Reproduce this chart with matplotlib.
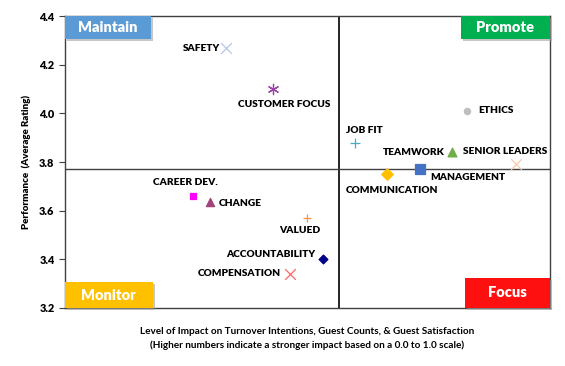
import numpy as np
import matplotlib
import matplotlib.pyplot as plt
from matplotlib.patches import Rectangle

plt.rcParams['font.family'] = ['Lato', 'DejaVu Sans']

labels = ['SAFETY', 'CUSTOMER FOCUS', 'ETHICS', 'JOB FIT', 'TEAMWORK', 'SENIOR LEADERS',
          'MANAGEMENT', 'COMMUNICATION', 'CAREER DEV.', 'CHANGE', 'VALUED',
          'ACCOUNTABILITY', 'COMPENSATION']
impact = [0.233, 0.272, 0.432, 0.339, 0.419, 0.472, 0.393, 0.366, 0.206, 0.220, 0.300, 0.313, 0.286]
perf = [4.268, 4.10, 4.01, 3.878, 3.841, 3.792, 3.771, 3.751, 3.66, 3.636, 3.570, 3.401, 3.340]
markers = ['x', (6, 2, 0), 'o', '+', '^', 'x', 's', 'D', 's', '^', '+', 'D', 'x']
colors = ['#B4C7E7', '#9B3FA8', '#BFBFBF', '#4BACC6', '#70AD47', '#F8CBAD', '#4472C4',
          '#FFC000', '#FF00FF', '#A0457A', '#F79646', '#00008B', '#FF6666']
sizes = [60, 55, 20, 60, 40, 60, 45, 35, 20, 35, 40, 20, 60]
# label offsets (points) and alignment
offsets = [(-4, 0, 'right'), (8, -11, 'center'), (8, 0, 'left'), (-6, 9, 'left'),
           (-5, 0, 'right'), (-38, 9, 'left'), (7, -6, 'left'), (-30, -12, 'left'),
           (-29, 10, 'left'), (6, -1, 'left'), (9, -9, 'right'), (-6, 3, 'right'),
           (-7, 0, 'right')]

x_mid = 0.326
y_mid = 3.771

fig = plt.figure(figsize=(5.65, 3.66), dpi=100)
ax = fig.add_axes([0.115, 0.1585, 0.858, 0.7975])

for i in range(len(labels)):
    ax.scatter(impact[i], perf[i], marker=markers[i], color=colors[i], s=sizes[i],
               linewidths=0.9, zorder=3)
    dx, dy, ha = offsets[i]
    ax.annotate(labels[i], (impact[i], perf[i]), xytext=(dx, dy), textcoords='offset points',
                ha=ha, va='center', fontsize=7.3, fontweight='heavy', color='black')

ax.axvline(x_mid, color='black', lw=1.2, zorder=1)
ax.axhline(y_mid, color='#404040', lw=1.0, zorder=1)

ax.set_xlim(0.10, 0.50)
ax.set_ylim(3.2, 4.4)
ax.set_yticks(np.arange(3.2, 4.41, 0.2))
ax.set_yticklabels(['%.1f' % v for v in np.arange(3.2, 4.41, 0.2)], fontsize=7.8, fontweight='heavy')
ax.set_xticks([])
ax.tick_params(axis='y', length=4, width=0.8, color='#404040')
for s in ax.spines.values():
    s.set_color('#404040')
    s.set_linewidth(1.0)

ax.set_ylabel('Performance  (Average Rating)', fontsize=7, fontweight='heavy', labelpad=6)
ax.set_xlabel('Level of Impact on Turnover Intentions, Guest Counts, & Guest Satisfaction\n'
              '(Higher numbers indicate a stronger impact based on a 0.0 to 1.0 scale)',
              fontsize=7.2, fontweight='bold', labelpad=14, linespacing=1.5)

# quadrant label boxes (axes fraction)
boxes = [('Maintain', 0.0, 0.921, 0.177, 0.079, '#5B9BD5'),
         ('Promote', 0.817, 0.921, 0.183, 0.079, '#00B050'),
         ('Monitor', 0.0, 0.0, 0.181, 0.089, '#FFC000'),
         ('Focus', 0.825, 0.0, 0.175, 0.103, '#FF1010')]
for txt, bx, by, bw, bh, c in boxes:
    ax.add_patch(Rectangle((bx + 0.004, by - 0.008), bw, bh, transform=ax.transAxes,
                           facecolor='#A0A0A0', edgecolor='none', alpha=0.6, zorder=4, clip_on=False))
    ax.add_patch(Rectangle((bx, by), bw, bh, transform=ax.transAxes,
                           facecolor=c, edgecolor='none', zorder=5, clip_on=False))
    ax.text(bx + bw / 2, by + bh / 2, txt, transform=ax.transAxes, ha='center', va='center',
            color='white', fontsize=10.5, fontweight='heavy', zorder=6)

plt.savefig('out.png', dpi=100)
